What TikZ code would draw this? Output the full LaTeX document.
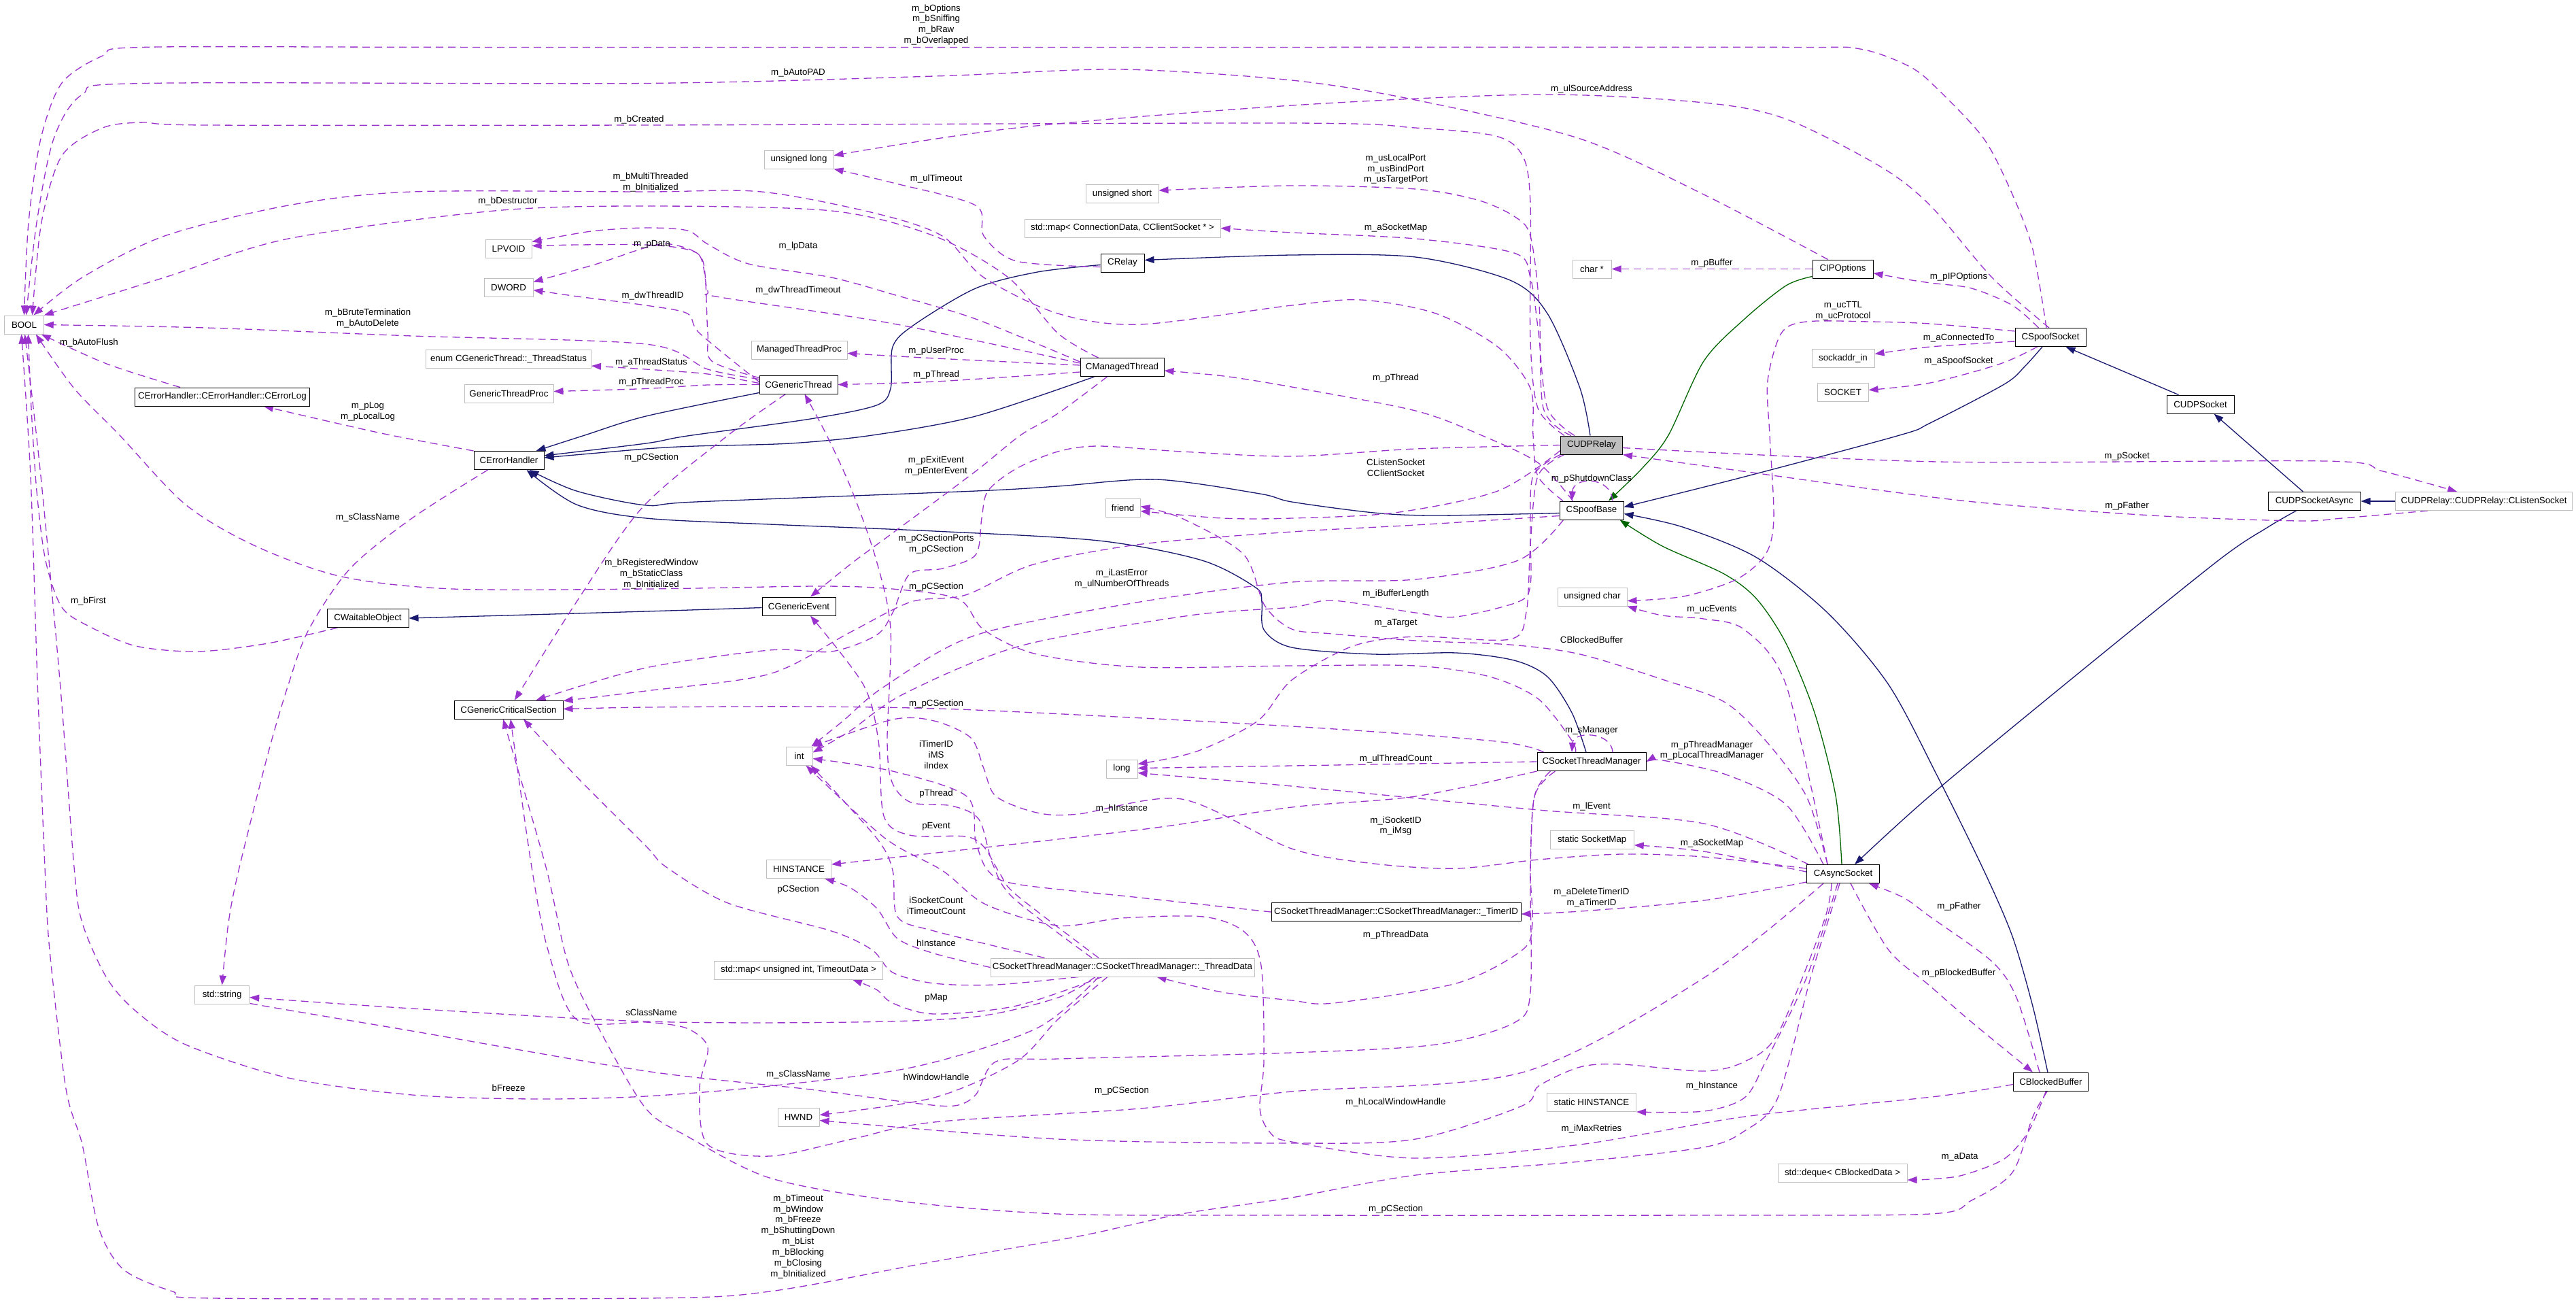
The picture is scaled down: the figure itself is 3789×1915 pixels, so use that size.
\documentclass[tikz,border=0pt]{standalone}
\usepackage{fontspec}
\setmainfont{Liberation Sans}
\usetikzlibrary{arrows.meta,calc}
\definecolor{usecol}{HTML}{9A32CD}
\definecolor{pubcol}{HTML}{191970}
\definecolor{protcol}{HTML}{006400}
\definecolor{grayb}{HTML}{BFBFBF}
\pgfdeclarelayer{bglayer}
\pgfdeclarelayer{edgelayer}
\pgfsetlayers{bglayer,edgelayer,main}
\begin{document}
\begin{tikzpicture}[x=1pt,y=-1pt,
 every node/.style={font=\fontsize{13.3}{15.9}\selectfont},
 cls/.style={draw=black,line width=1pt,fill=white,minimum height=27pt,inner xsep=2pt,inner ysep=0pt},
 ext/.style={cls,draw=grayb},
 lbl/.style={align=center,inner sep=0pt},
 dxtip/.style={-{Triangle[length=14pt,width=10pt]}},
 usage/.style={draw=usecol,line width=1.3pt,dash pattern=on 11pt off 7pt,dxtip},
 pub/.style={draw=pubcol,line width=1.3pt,dxtip},
 prot/.style={draw=protcol,line width=1.3pt,dxtip},
 sm/.style={smooth,tension=0.5}]
\begin{pgfonlayer}{bglayer}
\fill[white] (0,0) rectangle (3789,1915);
\end{pgfonlayer}
\useasboundingbox (0,0) rectangle (3789,1915);

% ---------- nodes ----------
\node[ext, minimum width=57.5] (BOOL) at (35.5,477.5) {BOOL};
\node[cls, minimum width=257] (CErrorLog) at (327,583.5) {CErrorHandler::CErrorHandler::CErrorLog};
\node[ext, minimum width=68] (LPVOID) at (748,365.5) {LPVOID};
\node[ext, minimum width=72] (DWORD) at (748,422.5) {DWORD};
\node[ext, minimum width=243] (ThreadStatus) at (748,528) {enum CGenericThread::\_ThreadStatus};
\node[ext, minimum width=131] (GTProc) at (748.5,578.5) {GenericThreadProc};
\node[ext, minimum width=102] (ulong) at (1175,234.5) {unsigned long};
\node[ext, minimum width=107] (ushort) at (1650.5,285) {unsigned short};
\node[ext, minimum width=288] (mapConn) at (1651,335.5) {std::map< ConnectionData, CClientSocket * >};
\node[cls, minimum width=64] (CRelay) at (1651,386.5) {CRelay};
\node[ext, minimum width=141] (MTProc) at (1175.5,514.5) {ManagedThreadProc};
\node[cls, minimum width=123] (CManagedThread) at (1650.5,540) {CManagedThread};
\node[cls, minimum width=115] (CGenericThread) at (1174.5,565.5) {CGenericThread};
\node[ext, minimum width=57] (charp) at (2341.5,395.5) {char *};
\node[cls, minimum width=89] (CIPOptions) at (2710.5,395.5) {CIPOptions};
\node[ext, minimum width=92] (sockaddr) at (2711,526.5) {sockaddr\_in};
\node[ext, minimum width=75] (SOCKET) at (2710.5,576.5) {SOCKET};
\node[cls, minimum width=104] (CSpoofSocket) at (3016,496) {CSpoofSocket};
\node[cls, minimum width=99] (CUDPSocket) at (3236.5,594.5) {CUDPSocket};
\node[cls, minimum width=103] (CErrorHandler) at (748.5,677) {CErrorHandler};
\node[cls, minimum width=120] (CWaitableObject) at (541,909) {CWaitableObject};
\node[cls, minimum width=160] (CGCS) at (748,1043.5) {CGenericCriticalSection};
\node[ext, minimum width=51] (friend) at (1651.5,746.5) {friend};
\node[cls, minimum width=108] (CGenericEvent) at (1175,891.5) {CGenericEvent};
\node[ext, minimum width=39] (int) at (1175.5,1111.5) {int};
\node[ext, minimum width=46] (long) at (1650,1130.5) {long};
\node[ext, minimum width=95] (HINSTANCE) at (1175,1278) {HINSTANCE};
\node[cls, fill=grayb, minimum width=91] (CUDPRelay) at (2341,654.5) {CUDPRelay};
\node[cls, minimum width=94] (CSpoofBase) at (2341,750.5) {CSpoofBase};
\node[ext, minimum width=102] (uchar) at (2342,877.5) {unsigned char};
\node[cls, minimum width=160] (CSTM) at (2341,1120) {CSocketThreadManager};
\node[ext, minimum width=123] (sSocketMap) at (2341.7,1234.7) {static SocketMap};
\node[cls, minimum width=136] (CUDPSocketAsync) at (3404,737) {CUDPSocketAsync};
\node[ext, minimum width=260] (CListenSocket) at (3653.6,737) {CUDPRelay::CUDPRelay::CListenSocket};
\node[ext, minimum width=80] (stdstring) at (326.6,1462.6) {std::string};
\node[ext, minimum width=248] (mapTimeout) at (1174.5,1426.5) {std::map< unsigned int, TimeoutData >};
\node[ext, minimum width=388] (ThreadData) at (1651,1422.5) {CSocketThreadManager::CSocketThreadManager::\_ThreadData};
\node[ext, minimum width=61] (HWND) at (1174.5,1642.5) {HWND};
\node[cls, minimum width=367] (TimerID) at (2053.5,1341) {CSocketThreadManager::CSocketThreadManager::\_TimerID};
\node[cls, minimum width=107] (CAsyncSocket) at (2711,1285) {CAsyncSocket};
\node[ext, minimum width=131] (sHINSTANCE) at (2341,1621) {static HINSTANCE};
\node[ext, minimum width=190] (deque) at (2710,1725) {std::deque< CBlockedData >};
\node[cls, minimum width=110] (CBlockedBuffer) at (3016.4,1590.5) {CBlockedBuffer};

% ---------- labels ----------
\node[lbl] (L1) at (1377,36.5) {m\_bOptions\\m\_bSniffing\\m\_bRaw\\m\_bOverlapped};
\node[lbl] (L2) at (1174,107) {m\_bAutoPAD};
\node[lbl] (L3) at (2341,130.6) {m\_ulSourceAddress};
\node[lbl] (L4) at (940,175.5) {m\_bCreated};
\node[lbl] (L5) at (2053,248.6) {m\_usLocalPort\\m\_usBindPort\\m\_usTargetPort};
\node[lbl] (L6) at (957,267.6) {m\_bMultiThreaded\\m\_bInitialized};
\node[lbl] (L7) at (1377,262.5) {m\_ulTimeout};
\node[lbl] (L8) at (747,296) {m\_bDestructor};
\node[lbl] (L9) at (2053,334.7) {m\_aSocketMap};
\node[lbl] (L10) at (959,359) {m\_pData};
\node[lbl] (L11) at (1174,362.5) {m\_lpData};
\node[lbl] (L12) at (2518,387.4) {m\_pBuffer};
\node[lbl] (L13) at (2881,407.4) {m\_pIPOptions};
\node[lbl] (L14) at (1174,426.6) {m\_dwThreadTimeout};
\node[lbl] (L15) at (960,434.7) {m\_dwThreadID};
\node[lbl] (L16) at (2711,457) {m\_ucTTL\\m\_ucProtocol};
\node[lbl] (L17) at (541,468) {m\_bBruteTermination\\m\_bAutoDelete};
\node[lbl] (L18) at (2881,496.5) {m\_aConnectedTo};
\node[lbl] (L19) at (131,504) {m\_bAutoFlush};
\node[lbl] (L20) at (1377,516) {m\_pUserProc};
\node[lbl] (L21) at (2881,530.7) {m\_aSpoofSocket};
\node[lbl] (L22) at (958,532.7) {m\_aThreadStatus};
\node[lbl] (L23) at (1377,551) {m\_pThread};
\node[lbl] (L24) at (2053,556.4) {m\_pThread};
\node[lbl] (L25) at (958,562.5) {m\_pThreadProc};
\node[lbl] (L26) at (541,605) {m\_pLog\\m\_pLocalLog};
\node[lbl] (L27) at (3128.6,670.6) {m\_pSocket};
\node[lbl] (L28) at (958,672.7) {m\_pCSection};
\node[lbl] (L29) at (1377,684.7) {m\_pExitEvent\\m\_pEnterEvent};
\node[lbl] (L30) at (2053,688) {CListenSocket\\CClientSocket};
\node[lbl] (L31) at (2341,704.5) {m\_pShutdownClass};
\node[lbl] (L32) at (3128.6,744.5) {m\_pFather};
\node[lbl] (L33) at (541,761) {m\_sClassName};
\node[lbl] (L34) at (1377,799.8) {m\_pCSectionPorts\\m\_pCSection};
\node[lbl] (L35) at (958,843.8) {m\_bRegisteredWindow\\m\_bStaticClass\\m\_bInitialized};
\node[lbl] (L36) at (1650,851) {m\_iLastError\\m\_ulNumberOfThreads};
\node[lbl] (L37) at (1377,863) {m\_pCSection};
\node[lbl] (L38) at (2053,872.7) {m\_iBufferLength};
\node[lbl] (L39) at (130,883.7) {m\_bFirst};
\node[lbl] (L40) at (2518,896) {m\_ucEvents};
\node[lbl] (L41) at (2053,916) {m\_aTarget};
\node[lbl] (L42) at (2341,940.4) {CBlockedBuffer};
\node[lbl] (L43) at (1377,1035.5) {m\_pCSection};
\node[lbl] (L44) at (2341,1074.7) {m\_sManager};
\node[lbl] (L45) at (1377,1110) {iTimerID\\iMS\\iIndex};
\node[lbl] (L46) at (2518,1103.5) {m\_pThreadManager\\m\_pLocalThreadManager};
\node[lbl] (L47) at (2053,1115.6) {m\_ulThreadCount};
\node[lbl] (L48) at (1377,1167.4) {pThread};
\node[lbl] (L49) at (2341,1186) {m\_lEvent};
\node[lbl] (L50) at (1650,1188.6) {m\_hInstance};
\node[lbl] (L51) at (2053,1214.5) {m\_iSocketID\\m\_iMsg};
\node[lbl] (L52) at (1377,1214.8) {pEvent};
\node[lbl] (L53) at (2518,1240.5) {m\_aSocketMap};
\node[lbl] (L54) at (1174,1307.7) {pCSection};
\node[lbl] (L55) at (2341,1319.7) {m\_aDeleteTimerID\\m\_aTimerID};
\node[lbl] (L56) at (1377,1331.5) {iSocketCount\\iTimeoutCount};
\node[lbl] (L57) at (2881.4,1332.6) {m\_pFather};
\node[lbl] (L58) at (2053,1374.6) {m\_pThreadData};
\node[lbl] (L59) at (1377,1386.4) {hInstance};
\node[lbl] (L60) at (2881,1431.3) {m\_pBlockedBuffer};
\node[lbl] (L61) at (1377,1467) {pMap};
\node[lbl] (L62) at (958,1488.5) {sClassName};
\node[lbl] (L63) at (1174,1579.5) {m\_sClassName};
\node[lbl] (L64) at (1377,1583.6) {hWindowHandle};
\node[lbl] (L65) at (2518,1596.7) {m\_hInstance};
\node[lbl] (L66) at (748,1599.5) {bFreeze};
\node[lbl] (L67) at (1650,1603.6) {m\_pCSection};
\node[lbl] (L68) at (2053,1620.7) {m\_hLocalWindowHandle};
\node[lbl] (L69) at (2341,1660.3) {m\_iMaxRetries};
\node[lbl] (L70) at (2882.6,1700.8) {m\_aData};
\node[lbl] (L71) at (2053,1778.3) {m\_pCSection};
\node[lbl] (L72) at (1174,1818.3) {m\_bTimeout\\m\_bWindow\\m\_bFreeze\\m\_bShuttingDown\\m\_bList\\m\_bBlocking\\m\_bClosing\\m\_bInitialized};

\begin{pgfonlayer}{edgelayer}
% ---------- inheritance ----------
\draw[pub] plot[sm] coordinates {($(CUDPRelay.north)+(-2,0)$) (2324,571) (2276,461) (2221,412) (2082,378) (1900,375) ($(CRelay.east)+(0,-4)$)};
\draw[prot] plot[sm] coordinates {($(CIPOptions.south west)+(0,-3)$) (2627,420) (2566,469) (2506,531) (2454,640) (2415,689) ($(CSpoofBase.north)+(25,0)$)};
\draw[pub] plot[sm] coordinates {($(CSpoofSocket.south)+(-12,0)$) (2978,539) (2948,565) (2839,622) (2794,640) (2566,701) ($(CSpoofBase.east)+(0,-5)$)};
\draw[pub] ($(CUDPSocket.north west)+(18,0)$) -- ($(CSpoofSocket.south east)+(-30,0)$);
\draw[pub] ($(CUDPSocketAsync.north west)+(52,0)$) -- ($(CUDPSocket.south)+(20,0)$);
\draw[pub] (CListenSocket.west) -- (CUDPSocketAsync.east);
\draw[pub] plot[sm] coordinates {($(CUDPSocketAsync.south west)+(42,0)$) (3336,775) (3263,824) (3051,995) (2839,1170) ($(CAsyncSocket.north east)+(-37,0)$)};
\draw[prot] plot[sm] coordinates {($(CAsyncSocket.north)+(-2,0)$) (2700,1170) (2669,1048) (2627,946) (2584,881) (2536,844) (2445,803) ($(CSpoofBase.south east)+(-6,0)$)};
\draw[pub] plot[sm] coordinates {($(CBlockedBuffer.north west)+(51,0)$) (2990,1480) (2960,1377) (2918,1280) (2850,1142) (2778,1007) (2688,901) (2584,820) (2475,775) ($(CSpoofBase.east)+(0,5)$)};
\draw[pub] plot[sm] coordinates {($(CSpoofBase.west)+(0,4)$) (2112,758) (2021,754) (1900,738) (1853,726) (1701,705) (1556,715) (1435,722) (1023,738) (950,743) (848,722) ($(CErrorHandler.south east)+(-22,0)$)};
\draw[pub] plot[sm] coordinates {($(CSTM.north)+(-8,0)$) (2312,1048) (2276,995) (2227,971) (2142,960) (2021,962) (1900,952) (1859,926) (1856,885) (1847,864) (1768,824) (1616,795) (1374,781) (1132,771) (950,762) (848,742) ($(CErrorHandler.south east)+(-26,0)$)};
\draw[pub] plot[sm] coordinates {($(CManagedThread.south west)+(21,0)$) (1435,612) (1283,640) (1162,652) (1023,656) (950,660) ($(CErrorHandler.east)+(0,-4)$)};
\draw[pub] plot[sm] coordinates {($(CRelay.west)+(0,3)$) (1526,400) (1435,424) (1344,478) (1313,510) (1310,571) (1289,596) (1192,616) (1011,641) (950,652) ($(CErrorHandler.east)+(0,-7)$)};
\draw[pub] plot[sm] coordinates {($(CGenericThread.south west)+(0,-2)$) (950,612) (860,640) ($(CErrorHandler.north east)+(-12,0)$)};
\draw[pub] plot[sm] coordinates {($(CGenericEvent.west)+(0,2)$) (950,899) (CWaitableObject.east)};

% ---------- usage: to BOOL ----------
\draw[usage] plot[sm] coordinates {($(CSpoofSocket.north)+(-6,0)$) (2990,367) (2960,286) (2918,204) (2850,131) (2809,98) (2736,72) (2627,69.4) (1900,69.4) (700,69.4) (212,69.4) (151,82) (91,122) (60,204) (42,327) (BOOL.north)};
\draw[usage] plot[sm] coordinates {($(CIPOptions.north)+(-22,0)$) (2506,286) (2324,204) (2082,147) (1900,118) (1647,102) (1374,112) (950,122.5) (212,122.5) (121,139) (79,204) (54,327) ($(BOOL.north)+(3,0)$)};
\draw[usage] plot[sm] coordinates {($(CUDPRelay.north)+(-40,0)$) (2262,600) (2251,500) (2251,300) (2240,230) (2200,200) (2082,188) (1900,181) (950,184) (303,184) (212,180) (151,188) (91,229) (61,327) ($(BOOL.north)+(12,0)$)};
\draw[usage] plot[sm] coordinates {($(CSpoofBase.north)+(-42,0)$) (2262,700) (2255,640) (2251,571) (2203,510) (2112,461) (2003,441) (1900,449) (1677,477) (1556,461) (1447,408) (1386,347) (1289,314) (1120,282) (950,282) (606,282) (424,302) (242,347) (121,408) ($(BOOL.north)+(14,0)$)};
\draw[usage] plot[sm] coordinates {($(CManagedThread.north)+(-35,0)$) (1556,490) (1483,408) (1374,347) (1223,310) (950,303) (727,310) (424,351) (242,408) (BOOL.north east)};
\draw[usage] plot[sm] coordinates {($(CGenericThread.west)+(0,-8)$) (1041,543) (950,506) (606,494) (303,482) (BOOL.east)};
\draw[usage] plot[sm] coordinates {($(CErrorLog.north west)+(67,0)$) (157,535) ($(BOOL.south east)+(-4,0)$)};
\draw[usage] plot[sm] coordinates {($(CSTM.north west)+(57,0)$) (2312,1089) (2263,1028) (2191,995) (2082,979) (1900,979) (1677,981) (1525,962) (1447,926) (1410,881) (1313,866) (1204,862) (950,866) (666,866) (503,848) (376,803) (273,742) (176,640) (109,571) ($(BOOL.south east)+(-12,0)$)};
\draw[usage] plot[sm] coordinates {($(CWaitableObject.south west)+(16,0)$) (394,946) (291,958) (200,950) (133,922) (91,893) (67,824) (54,722) (46,600) ($(BOOL.south)+(6,0)$)};
\draw[usage] plot[sm] coordinates {($(CAsyncSocket.south)+(-5,0)$) (2688,1357) (2663,1438) (2615,1614) (2566,1663) (2506,1687) (2324,1708) (2082,1728) (1900,1761) (1738,1785) (1586,1818) (1374,1855) (1132,1899) (950,1909) (315,1909) (254,1899) (182,1867) (145,1805) (121,1683) (97,1601) (73,1397) (66,1275) (55,1000) (45,700) ($(BOOL.south)+(-4,0)$)};
\draw[usage] plot[sm] coordinates {($(ThreadData.south)+(-35,0)$) (1525,1512) (1344,1569) (1132,1597) (950,1612) (788,1616) (606,1610) (424,1585) (273,1536) (200,1487) (157,1438) (121,1357) (109,1275) (88,1000) (60,700) ($(BOOL.south)+(1,0)$)};

% ---------- usage: top area ----------
\draw[usage] plot[sm] coordinates {($(CSpoofSocket.north)+(-2,0)$) (2930,408) (2839,302) (2766,245) (2627,175) (2506,151) (2263,139) (1900,155) (1495,188) ($(ulong.east)+(0,-6)$)};
\draw[usage] plot[sm] coordinates {($(CRelay.west)+(0,6)$) (1495,384) (1447,347) (1435,302) (1314,269) (ulong.south east)};
\draw[usage] plot[sm] coordinates {($(CUDPRelay.north)+(-30,0)$) (2270,600) (2264,449) (2251,347) (2227,318) (2173,294) (2082,278) (1900,273) ($(ushort.east)+(0,-5)$)};
\draw[usage] plot[sm] coordinates {($(CUDPRelay.north)+(-25,0)$) (2276,600) (2263,490) (2251,408) (2227,372) (2082,351) (1900,342) (mapConn.east)};
\draw[usage] plot[sm] coordinates {($(CGenericThread.west)+(0,-10)$) (1047,531) (1041,490) (1035,388) (1011,367) (950,360) (850,360) ($(LPVOID.east)+(0,-4)$)};
\draw[usage] plot[sm] coordinates {($(CManagedThread.west)+(0,-8)$) (1435,469) (1314,433) (1223,408) (1101,388) (1041,359) (1011,339) (950,335) (870,340) ($(LPVOID.east)+(0,-10)$)};
\draw[usage] plot[sm] coordinates {($(CGenericThread.west)+(0,-4)$) (1029,490) (1011,461) (950,449) (850,436) ($(DWORD.east)+(0,4)$)};
\draw[usage] plot[sm] coordinates {($(CManagedThread.west)+(0,-6)$) (1314,476) (1059,437) (1041,428) (1029,376) (986,359) (950,364) (878,388) ($(DWORD.east)+(0,-8)$)};
\draw[usage] plot[sm] coordinates {($(CGenericThread.west)+(0,-2)$) (1041,550) (950,543) ($(ThreadStatus.east)+(0,10)$)};
\draw[usage] plot[sm] coordinates {(CGenericThread.west) (1041,566) (950,571.5) ($(GTProc.east)+(0,-3)$)};
\draw[usage] plot[sm] coordinates {($(CManagedThread.west)+(0,-3)$) (1377,527) ($(MTProc.east)+(0,5)$)};
\draw[usage] plot[sm] coordinates {($(CManagedThread.west)+(0,7)$) (1377,561) (CGenericThread.east)};
\draw[usage] plot[sm] coordinates {($(CSpoofBase.north west)+(20,0)$) (2263,681) (2179,640) (2082,604) (1900,569) (1800,553) ($(CManagedThread.east)+(0,5)$)};
\draw[usage] (CIPOptions.west) -- (charp.east);
\draw[usage] plot[sm] coordinates {($(CSpoofSocket.north west)+(35,0)$) (2960,449) (2900,424) (2839,416) (2800,410) ($(CIPOptions.east)+(0,6)$)};
\draw[usage] plot[sm] coordinates {($(CSpoofSocket.west)+(0,-9)$) (2839,476) (2750,473) (2657,473) (2620,490) (2600,560) (2603,640) (2609,762) (2597,815) (2554,852) (2476,877) ($(uchar.east)+(0,6)$)};
\draw[usage] plot[sm] coordinates {($(CSpoofSocket.west)+(0,6)$) (2839,510) ($(sockaddr.east)+(0,-6)$)};
\draw[usage] plot[sm] coordinates {($(CSpoofSocket.south west)+(33,0)$) (2942,535) (2839,563) ($(SOCKET.east)+(0,-3)$)};

% ---------- usage: middle ----------
\draw[usage] plot[sm] coordinates {(CErrorHandler.north west) (575,640) (485,620) ($(CErrorLog.south east)+(-68,0)$)};
\draw[usage] plot[sm] coordinates {($(CErrorHandler.south west)+(21,0)$) (606,762) (515,836) (454,926) (424,1007) (394,1109) (351,1280) (336,1357) (stdstring.north)};
\draw[usage] plot[sm] coordinates {($(CGenericThread.south west)+(39,0)$) (1071,640) (945,746) (848,885) ($(CGCS.north)+(9,0)$)};
\draw[usage] plot[sm] coordinates {(CUDPRelay.west) (2082,660) (1900,671) (1738,664) (1616,656) (1556,664) (1495,689) (1453,722) (1444,762) (1435,816) (1386,836) (1338,844) (1313,901) (1289,934) (1223,958) (1132,956) (950,982) ($(CGCS.north east)+(-40,0)$)};
\draw[usage] plot[sm] coordinates {($(CSpoofBase.west)+(0,8)$) (2082,772) (1900,782) (1680,800) (1520,830) (1420,875) (1340,885) (1250,930) (1132,991) (950,1016) ($(CGCS.east)+(0,-13)$)};
\draw[usage] plot[sm] coordinates {($(CSTM.north west)+(10,0)$) (2200,1090) (1900,1068) (1435,1044) (1192,1039) (950,1040) ($(CGCS.east)+(0,-1)$)};
\draw[usage] plot[sm] coordinates {($(ThreadData.south)+(-65,0)$) (1465,1448) (1374,1446) (1313,1430) (1283,1397) (1223,1369) (1071,1328) (980,1275) (950,1244) (848,1142) ($(CGCS.south)+(22,0)$)};
\draw[usage] plot[sm] coordinates {($(CAsyncSocket.south west)+(25,0)$) (2506,1438) (2239,1577) (1900,1605) (1677,1630) (1374,1650) (1253,1675) (1132,1700) (1041,1683) (1029,1600) (1041,1540) (1010,1512) (950,1503) (848,1499) (806,1397) (782,1275) ($(CGCS.south)+(3,0)$)};
\draw[usage] plot[sm] coordinates {($(CBlockedBuffer.south)+(-5,0)$) (2990,1642) (2960,1724) (2900,1765) (2839,1785) (2500,1787) (1900,1787) (1556,1785) (1313,1765) (1132,1732) (1011,1671) (950,1630) (885,1520) (836,1418) (803,1275) ($(CGCS.south)+(-8,0)$)};

% int
\draw[usage] plot[sm] coordinates {($(CSpoofBase.south west)+(6,0)$) (2233,824) (2082,852) (1900,856) (1677,885) (1435,934) (1300,1010) (1240,1060) ($(int.north east)+(-2,0)$)};
\draw[usage] plot[sm] coordinates {(CUDPRelay.south west) (2255,700) (2251,780) (2251,860) (2233,885) (2142,907) (2082,901) (1960,883) (1900,893) (1750,905) (1500,950) (1330,1020) (1250,1075) ($(int.east)+(0,-5)$)};
\draw[usage] plot[sm] coordinates {(TimerID.west) (1677,1320) (1495,1300) (1453,1280) (1435,1236) (1422,1171) (1313,1134) ($(int.east)+(0,4)$)};
\draw[usage] plot[sm] coordinates {($(CAsyncSocket.west)+(0,-8)$) (2506,1260) (2385,1256) (2263,1264) (2142,1277) (2021,1270) (1900,1248) (1738,1175) (1586,1197) (1525,1195) (1465,1171) (1447,1130) (1428,1085) (1374,1060) (1313,1058) (int.north east)};
\draw[usage] plot[sm] coordinates {($(ThreadData.north west)+(80,0)$) (1374,1369) (1320,1348) (1313,1280) (1289,1232) ($(int.south east)+(-3,0)$)};
\draw[usage] plot[sm] coordinates {($(CBlockedBuffer.west)+(0,4)$) (2850,1612) (2566,1642) (2324,1683) (2082,1703) (1900,1679) (1868,1665) (1853,1630) (1859,1560) (1855,1420) (1830,1370) (1770,1348) (1650,1350) (1556,1361) (1450,1330) (1386,1280) (1301,1232) ($(int.south)+(10,0)$)};

% long
\draw[usage] plot[sm] coordinates {(CSTM.west) (1900,1126) ($(long.east)+(0,-1)$)};
\draw[usage] plot[sm] coordinates {($(CAsyncSocket.north west)+(3,0)$) (2506,1211) (2263,1191) (1900,1156) ($(long.east)+(0,6)$)};
\draw[usage] plot[sm] coordinates {($(CUDPRelay.south west)+(6,0)$) (2262,700) (2251,800) (2245,900) (2221,940) (2082,936) (1990,950) (1900,1000) (1850,1060) (1760,1105) ($(long.east)+(0,-7)$)};

% HINSTANCE / HWND
\draw[usage] plot[sm] coordinates {(CSTM.south west) (2082,1171) (1900,1187) (1677,1220) ($(HINSTANCE.east)+(0,-7)$)};
\draw[usage] plot[sm] coordinates {(ThreadData.west) (1374,1402) (1320,1380) (1290,1336) (1250,1305) ($(HINSTANCE.south east)+(-10,0)$)};
\draw[usage] plot[sm] coordinates {($(ThreadData.south)+(-22,0)$) (1556,1499) (1495,1561) (1374,1614) ($(HWND.east)+(0,-3)$)};
\draw[usage] plot[sm] coordinates {($(CAsyncSocket.south)+(-17,0)$) (2682,1357) (2615,1520) (2566,1561) (2506,1575) (2385,1565) (2324,1569) (2263,1597) (2239,1626) (2082,1675) (1900,1681) (1556,1675) ($(HWND.east)+(0,5)$)};

% ThreadData members
\draw[usage] plot[sm] coordinates {($(ThreadData.south)+(-30,0)$) (1495,1479) (1374,1491) (1313,1475) (1289,1455) ($(mapTimeout.south east)+(-45,0)$)};
\draw[usage] plot[sm] coordinates {($(ThreadData.south)+(-40,0)$) (1556,1467) (1435,1495) (1253,1503) (950,1502) (606,1483) ($(stdstring.east)+(0,4)$)};
\draw[usage] plot[sm] coordinates {($(CSTM.south west)+(20,0)$) (2257,1171) (2251,1280) (2251,1459) (2227,1504) (2112,1536) (1900,1548) (1556,1557) (1465,1561) (1435,1610) (1404,1626) (1344,1622) (1192,1602) (950,1575) (606,1516) (376,1477) ($(stdstring.east)+(0,10)$)};
\draw[usage] plot[sm] coordinates {($(CSTM.south west)+(27,0)$) (2257,1171) (2251,1280) (2254,1357) (2239,1397) (2142,1446) (1961,1475) (1900,1471) (1798,1459) ($(ThreadData.south east)+(-144,0)$)};
\draw[usage] plot[sm] coordinates {($(CAsyncSocket.west)+(0,12)$) (2506,1324) (2324,1340) ($(TimerID.east)+(0,3)$)};
\draw[usage] plot[sm] coordinates {($(CManagedThread.south west)+(40,0)$) (1556,608) (1501,640) (1435,693) (1314,783) (1253,828) ($(CGenericEvent.north)+(17,0)$)};
\draw[usage] plot[sm] coordinates {($(ThreadData.north)+(-35,0)$) (1495,1316) (1471,1285) (1447,1245) (1420,1230) (1338,1228) (1300,1200) (1292,1089) (1270,1007) ($(CGenericEvent.south)+(17,0)$)};
\draw[usage] plot[sm] coordinates {($(ThreadData.north)+(-45,0)$) (1490,1320) (1460,1270) (1440,1205) (1400,1185) (1340,1180) (1312,1150) (1305,1089) (1310,926) (1289,824) (1253,721) (1216,640) ($(CGenericThread.south)+(9,0)$)};

% friend
\draw[usage] plot[sm] coordinates {($(CUDPRelay.west)+(0,8)$) (2203,722) (2051,754) (1900,762) (1798,762) ($(friend.east)+(0,5)$)};
\draw[usage] plot[sm] coordinates {($(CAsyncSocket.north west)+(31,0)$) (2657,1171) (2597,1089) (2536,1032) (2445,999) (2324,962) (2221,948) (2082,942) (1960,932) (1900,925) (1860,890) (1829,815) (1738,762) ($(friend.east)+(0,-2)$)};

% CAsyncSocket members
\draw[usage] plot[sm] coordinates {($(CAsyncSocket.north west)+(31,0)$) (2627,1007) (2566,926) (2506,910) (2445,905) (uchar.south east)};
\draw[usage] plot[sm] coordinates {($(CAsyncSocket.west)+(0,-3)$) (2506,1252) ($(sSocketMap.east)+(0,8)$)};
\draw[usage] plot[sm] coordinates {($(CAsyncSocket.north west)+(25,0)$) (2627,1183) (2536,1138) (2445,1118) (CSTM.east)};
\draw[usage] plot[sm] coordinates {($(CAsyncSocket.south)+(-8,0)$) (2657,1438) (2597,1561) (2566,1614) (2506,1634) (sHINSTANCE.south east)};
\draw[usage] plot[sm] coordinates {($(CAsyncSocket.south east)+(-43,0)$) (2778,1397) (2839,1450) (2900,1503) ($(CBlockedBuffer.north west)+(29,0)$)};
\draw[usage] plot[sm] coordinates {($(CBlockedBuffer.north west)+(39,0)$) (2966,1467) (2930,1414) (2839,1348) (2800,1320) ($(CAsyncSocket.south east)+(-16,0)$)};
\draw[usage] plot[sm] coordinates {($(CBlockedBuffer.south)+(-7,0)$) (2984,1663) (2948,1704) (2887,1728) (2839,1734) ($(deque.east)+(0,10)$)};

% CUDPRelay / CListenSocket
\draw[usage] plot[sm] coordinates {($(CUDPRelay.east)+(0,4)$) (2850,679) (3420,678) (3505,693) ($(CListenSocket.north west)+(91,0)$)};
\draw[usage] plot[sm] coordinates {($(CListenSocket.south west)+(48,0)$) (3445,762) (3384,766) (3202,760) (3021,748) (2850,732) (2506,685) (CUDPRelay.south east)};

% self loops
\draw[usage] ($(CSpoofBase.north)+(31,0)$) .. controls (2370,700) and (2314,700) .. ($(CSpoofBase.north)+(-29,0)$);
\draw[usage] ($(CSTM.north)+(31,0)$) .. controls (2370,1075) and (2314,1075) .. ($(CSTM.north)+(-29,0)$);
\end{pgfonlayer}
\end{tikzpicture}
\end{document}
